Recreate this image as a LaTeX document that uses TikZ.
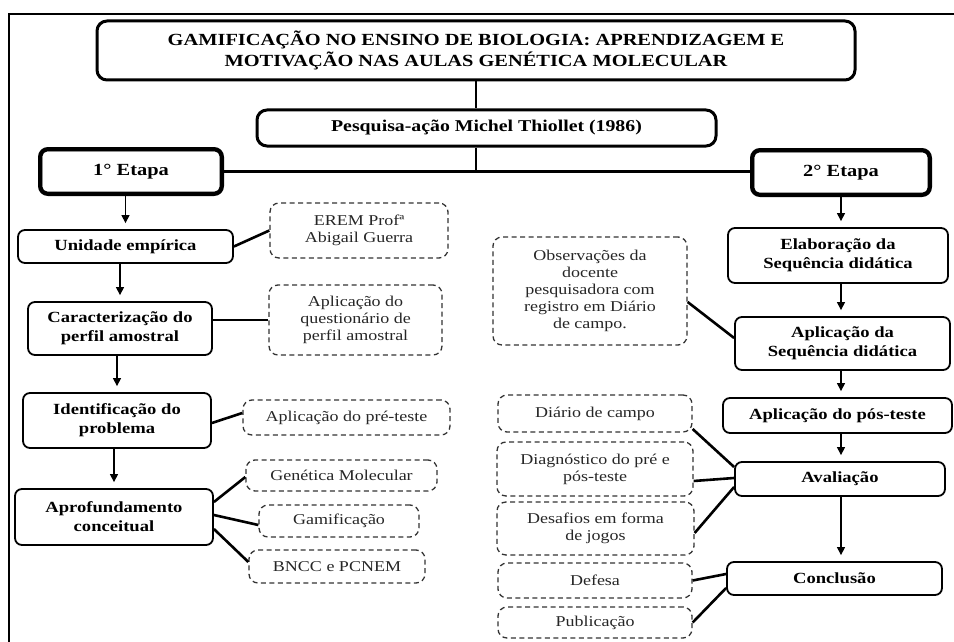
\documentclass[tikz,border=0pt]{standalone}
\usepackage{fontspec}
\setmainfont[FakeStretch=1.2]{Liberation Serif}
\usetikzlibrary{arrows.meta}
\begin{document}
\begin{tikzpicture}[x=1pt,y=-1pt,
  sz/.style n args={2}{minimum width=#1pt,minimum height=#2pt},
  box/.style={draw, line width=1.8pt, rounded corners=7pt, inner sep=0pt, align=center,
    font=\fontsize{15.5}{19}\selectfont\bfseries},
  headbox/.style={draw, line width=3pt, rounded corners=10pt, inner sep=0pt, align=center,
    font=\fontsize{16.5}{19}\selectfont\bfseries},
  etapa/.style={draw, line width=4pt, rounded corners=8pt, inner sep=0pt, align=center,
    font=\fontsize{17}{19}\selectfont\bfseries},
  inner/.style={line width=0.9pt, rounded corners=5pt},
  dbox/.style={draw=black!80, dashed, dash pattern=on 5pt off 3.5pt, line width=1.3pt,
    rounded corners=9pt, inner sep=0pt, align=center, text=black!85,
    font=\fontsize{15}{17}\selectfont},
  link/.style={line width=2.6pt},
  arr/.style={line width=1.2pt, -{Triangle[length=8pt,width=8pt]}, shorten >=6pt},
  frame/.style={line width=1.5pt}
]
\useasboundingbox (0,0) rectangle (954,642);
\draw[frame] (9,642) -- (9,14) -- (954,14);

% header
\node[headbox, sz={758}{59}, font=\fontsize{17}{21}\selectfont\bfseries] (title) at (476,50.5)
  {GAMIFICAÇÃO NO ENSINO DE BIOLOGIA: APRENDIZAGEM E\\MOTIVAÇÃO NAS AULAS GENÉTICA MOLECULAR};
\node[headbox, sz={459}{36}] (pesq) at (486.5,128) {Pesquisa-ação Michel Thiollet (1986)};
\node[etapa, sz={182}{45}] (e1) at (131,171.5) {1° Etapa};
\node[etapa, sz={178}{45}] (e2) at (841,172.5) {2° Etapa};
\draw[inner] ([xshift=4pt,yshift=-4pt]e1.north west) rectangle ([xshift=-4pt,yshift=4pt]e1.south east);
\draw[inner] ([xshift=4pt,yshift=-4pt]e2.north west) rectangle ([xshift=-4pt,yshift=4pt]e2.south east);

% left column
\node[box, sz={215}{33}] (unid) at (125.5,246.5) {Unidade empírica};
\node[dbox, sz={178}{55}] (erem) at (359,230.5) {EREM Profª\\Abigail Guerra};
\node[box, sz={184}{53}] (car) at (120,328.5) {Caracterização do\\perfil amostral};
\node[dbox, sz={173}{70}] (quest) at (355.5,320) {Aplicação do\\questionário de\\perfil amostral};
\node[box, sz={188}{55}] (iden) at (117,420.5) {Identificação do\\problema};
\node[dbox, sz={207}{35}] (pre) at (346.5,417.5) {Aplicação do pré-teste};
\node[box, sz={198}{56}] (aprof) at (114,517) {Aprofundamento\\conceitual};
\node[dbox, sz={191}{31}] (gen) at (341.5,475.5) {Genética Molecular};
\node[dbox, sz={160}{32}] (gam) at (339,521) {Gamificação};
\node[dbox, sz={176}{33}] (bncc) at (337,566.5) {BNCC e PCNEM};

% right column
\node[box, sz={220}{55}] (elab) at (838,255.5) {Elaboração da\\Sequência didática};
\node[box, sz={215}{53}] (aps) at (842.5,343.5) {Aplicação da\\Sequência didática};
\node[box, sz={229}{35}] (pos) at (837.5,415.5) {Aplicação do pós-teste};
\node[box, sz={210}{34}] (aval) at (840,479) {Avaliação};
\node[box, sz={215}{33}] (conc) at (834.5,578.5) {Conclusão};
\node[dbox, sz={194}{108}] (obs) at (590,291) {Observações da\\docente\\pesquisadora com\\registro em Diário\\de campo.};
\node[dbox, sz={194}{37}] (dia) at (595,413.5) {Diário de campo};
\node[dbox, sz={196}{54}] (diag) at (595,469) {Diagnóstico do pré e\\pós-teste};
\node[dbox, sz={197}{53}] (des) at (595.5,528.5) {Desafios em forma\\de jogos};
\node[dbox, sz={194}{35}] (def) at (595,580.5) {Defesa};
\node[dbox, sz={194}{31}] (pub) at (595,622.5) {Publicação};

% trunk
\draw[link] (title.south) -- (title.south |- pesq.north);
\draw[link] (title.south |- pesq.south) -- (title.south |- e1.east);
\draw[link] (e1.east) -- (e1.east -| e2.west);

% left arrows
\draw[arr] (unid.north |- e1.south) -- (unid.north);
\draw[arr] (car.north |- unid.south) -- (car.north);
\draw[arr] (iden.north |- car.south) -- (iden.north);
\draw[arr] (aprof.north |- iden.south) -- (aprof.north);
% left links
\draw[link] (unid.east) -- (erem.west);
\draw[link] (quest.west -| car.east) -- (quest.west);
\draw[link] ([yshift=-2.5pt]iden.east) -- ([yshift=4.5pt]pre.west);
\draw[link] ([yshift=15pt]aprof.east) -- ([yshift=-1.5pt]gen.west);
\draw[link] ([yshift=2pt]aprof.east) -- ([yshift=-4pt]gam.west);
\draw[link] ([yshift=-12pt]aprof.east) -- ([yshift=4.5pt]bncc.west);

% right arrows
\draw[arr] (e2.south) -- (e2.south |- elab.north);
\draw[arr] (e2.south |- elab.south) -- (e2.south |- aps.north);
\draw[arr] (e2.south |- aps.south) -- (e2.south |- pos.north);
\draw[arr] (e2.south |- pos.south) -- (e2.south |- aval.north);
\draw[arr] (e2.south |- aval.south) -- (e2.south |- conc.north);
% right links
\draw[link] ([yshift=-11pt]obs.east) -- ([yshift=5.5pt]aps.west);
\draw[link] ([yshift=-15.5pt]dia.east) -- ([yshift=12pt]aval.west);
\draw[link] ([yshift=-12pt]diag.east) -- ([yshift=1pt]aval.west);
\draw[link] ([yshift=-4.5pt]des.east) -- ([yshift=-8pt]aval.west);
\draw[link] (def.east) -- ([yshift=4.5pt]conc.west);
\draw[link] (pub.east) -- ([yshift=-9.5pt]conc.west);
\end{tikzpicture}
\end{document}
